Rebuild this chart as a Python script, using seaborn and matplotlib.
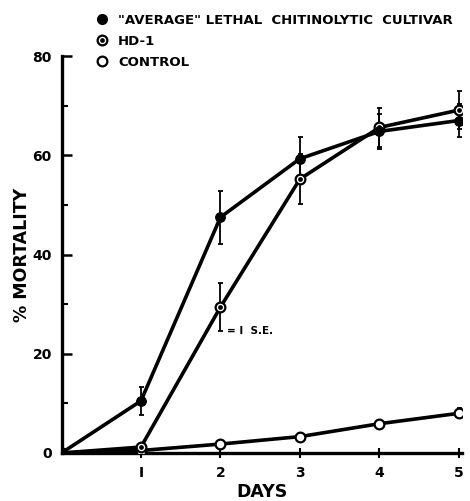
import matplotlib
matplotlib.use("Agg")
import matplotlib.pyplot as plt
import seaborn as sns
import numpy as np
import pandas as pd
from matplotlib.lines import Line2D
from matplotlib.legend_handler import HandlerTuple

# ---- data ----
days = [0, 1, 2, 3, 4, 5]
average_mort = [0, 10.5, 47.5, 59.3, 64.8, 67.0]
average_se = [0, 2.8, 5.3, 4.4, 3.5, 3.4]
hd1_mort = [0, 1.2, 29.4, 55.2, 65.6, 69.1]
hd1_se = [0, 0, 4.8, 5.0, 4.0, 3.8]
control_mort = [0, 0.5, 1.8, 3.3, 5.9, 8.0]
control_se = [0, 0, 0, 0, 0, 1.0]
series_labels = ['"AVERAGE" LETHAL  CHITINOLYTIC  CULTIVAR', 'HD-1', 'CONTROL']
y_ticks = [0, 20, 40, 60, 80]
y_minor = [10, 30, 50, 70]
x_ticks = [1, 2, 3, 4, 5]
x_ticklabels = ['I', '2', '3', '4', '5']

sns.set_style("ticks")
plt.rcParams['font.family'] = ['DejaVu Sans']
plt.rcParams['font.weight'] = 'bold'
for k in ['text.color', 'axes.labelcolor', 'xtick.color', 'ytick.color', 'axes.edgecolor']:
    plt.rcParams[k] = 'black'

fig = plt.figure(figsize=(4.70, 5.01), dpi=100)
W, H = 470, 501
ax = fig.add_axes([61.5 / W, (H - 453) / H, (462 - 61.5) / W, (453 - 56) / H])

lw = 2.6
ms = 7
# control
sns.lineplot(x=days, y=control_mort, ax=ax, color='black', lw=lw, marker='o',
             markersize=ms, markerfacecolor='white', markeredgecolor='black',
             markeredgewidth=1.6, zorder=3)
# HD-1
sns.lineplot(x=days, y=hd1_mort, ax=ax, color='black', lw=lw, marker='o',
             markersize=ms, markerfacecolor='white', markeredgecolor='black',
             markeredgewidth=1.6, zorder=4)
ax.plot(days[1:], hd1_mort[1:], ls='none', marker='o', markersize=2.4,
        color='black', zorder=5)
# average
sns.lineplot(x=days, y=average_mort, ax=ax, color='black', lw=lw, marker='o',
             markersize=ms, markerfacecolor='black', markeredgecolor='black',
             zorder=6)

for vals, se in [(average_mort, average_se), (hd1_mort, hd1_se), (control_mort, control_se)]:
    ax.errorbar(days, vals, yerr=se, fmt='none', ecolor='black', elinewidth=1.3,
                capsize=1.8, capthick=1.3, zorder=2)

ax.text(2.08, 24.5, "= I  S.E.", fontsize=7.5, fontweight='bold', va='center', ha='left')

ax.set_xlim(0, 5.04)
ax.set_ylim(0, 80)
ax.set_yticks(y_ticks)
ax.set_yticks(y_minor, minor=True)
ax.set_xticks(x_ticks)
ax.set_xticklabels(x_ticklabels)
ax.tick_params(axis='y', which='major', direction='in', length=7, width=1.8,
               labelsize=10, pad=7)
ax.tick_params(axis='y', which='minor', direction='in', length=4, width=1.5)
ax.tick_params(axis='x', which='major', direction='inout', length=7, width=1.5,
               labelsize=10, pad=6)
for lab in ax.get_xticklabels() + ax.get_yticklabels():
    lab.set_fontweight('bold')
sns.despine(ax=ax)
for s in ['left', 'bottom']:
    ax.spines[s].set_linewidth(2.4)
ax.set_xlabel("DAYS", fontsize=12.5, fontweight='bold', labelpad=2)
ax.set_ylabel("% MORTALITY", fontsize=12.5, fontweight='bold', labelpad=1)

# legend
h_avg = Line2D([], [], ls='none', marker='o', color='black', markersize=ms)
h_hd1 = (Line2D([], [], ls='none', marker='o', markerfacecolor='white',
                markeredgecolor='black', markeredgewidth=1.6, markersize=ms),
         Line2D([], [], ls='none', marker='o', color='black', markersize=2.4))
h_ctl = Line2D([], [], ls='none', marker='o', markerfacecolor='white',
               markeredgecolor='black', markeredgewidth=1.6, markersize=ms)
fig.legend([h_avg, h_hd1, h_ctl], series_labels,
           handler_map={tuple: HandlerTuple(ndivide=1)},
           loc='upper left', bbox_to_anchor=(97 / W, 1 - 14 / H),
           frameon=False, handlelength=0.8, handletextpad=0.8,
           labelspacing=0.6, borderpad=0, borderaxespad=0,
           prop={'size': 9.5, 'weight': 'bold'})

fig.savefig("out.png", dpi=100)
